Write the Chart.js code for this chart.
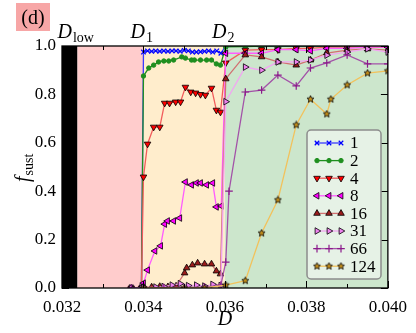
<!DOCTYPE html>
<html>
<head>
<meta charset="utf-8">
<script src="https://cdn.jsdelivr.net/npm/chart.js@4.4.1/dist/chart.umd.min.js"></script>
<style>
  html, body { margin: 0; padding: 0; background: #fff; }
</style>
</head>
<body>
<canvas id="chart" width="416" height="333"></canvas>
<script>
// axis ticks and phase boundaries
const xTicks = [0.032, 0.034, 0.036, 0.038, 0.040];
const yTicks = [0.0, 0.2, 0.4, 0.6, 0.8, 1.0];
const bandEdges = [0.032, 0.03238, 0.034, 0.036, 0.040];
const seriesNames = ["1", "2", "4", "8", "16", "31", "66", "124"];

// series values (D, f_sust)
const d1 = [0.0337, 0.03395, 0.0340, 0.0341, 0.0342, 0.0343, 0.0344, 0.0345, 0.0346, 0.0347, 0.0348, 0.0349, 0.0350, 0.0351, 0.0352, 0.0353, 0.0354, 0.0355, 0.0356, 0.0357, 0.0358, 0.0359, 0.03602, 0.0365, 0.0369, 0.0373, 0.03775, 0.0381, 0.0385, 0.0390, 0.0395, 0.0400];
const f1 = [0, 0, 0.975, 0.98, 0.978, 0.98, 0.978, 0.98, 0.978, 0.98, 0.98, 0.978, 0.982, 0.98, 0.975, 0.975, 0.976, 0.978, 0.98, 0.975, 0.98, 0.97, 1.0, 1.0, 1.0, 1.0, 1.0, 1.0, 1.0, 1.0];

const d2 = [0.0337, 0.03395, 0.0340, 0.03413, 0.03425, 0.03437, 0.0345, 0.03462, 0.03474, 0.03494, 0.03503, 0.03518, 0.03525, 0.0354, 0.03555, 0.03567, 0.03579, 0.03589, 0.03602, 0.0365, 0.0369, 0.0373, 0.03775, 0.0381, 0.0385, 0.0390, 0.0395, 0.0400];
const f2 = [0, 0, 0.876, 0.909, 0.921, 0.934, 0.938, 0.938, 0.942, 0.955, 0.95, 0.942, 0.942, 0.942, 0.942, 0.942, 0.926, 0.921, 0.996, 0.998, 1.0, 1.0, 1.0, 1.0, 1.0, 1.0, 1.0, 1.0];

const d4 = [0.0337, 0.03395, 0.0340, 0.0341, 0.03425, 0.0344, 0.03452, 0.03464, 0.03479, 0.03491, 0.03503, 0.03516, 0.03528, 0.0354, 0.03552, 0.03567, 0.03579, 0.03589, 0.03602, 0.0365, 0.0369, 0.0373, 0.03775, 0.0381, 0.0385, 0.0390, 0.0395, 0.0400];
const f4 = [0, 0, 0.459, 0.595, 0.665, 0.665, 0.764, 0.764, 0.769, 0.769, 0.83, 0.81, 0.806, 0.80, 0.797, 0.826, 0.735, 0.727, 0.93, 0.983, 0.985, 0.985, 0.99, 0.99, 0.995, 0.995, 0.995, 0.995];

const d8 = [0.0337, 0.03395, 0.0340, 0.0341, 0.03428, 0.03442, 0.03452, 0.03459, 0.03474, 0.03489, 0.03503, 0.03518, 0.0353, 0.0354, 0.03555, 0.0357, 0.03579, 0.03591, 0.03602, 0.0365, 0.0369, 0.0373, 0.03775, 0.0381, 0.0385, 0.0390, 0.0395, 0.0400];
const f8 = [0, 0, 0.02, 0.074, 0.153, 0.174, 0.264, 0.277, 0.277, 0.289, 0.438, 0.426, 0.434, 0.434, 0.426, 0.434, 0.335, 0.339, 0.97, 0.97, 0.97, 0.985, 0.985, 0.98, 0.99, 0.99, 0.995, 0.995];

const d16 = [0.0337, 0.03395, 0.0340, 0.0342, 0.0344, 0.0346, 0.0348, 0.03501, 0.03506, 0.0352, 0.03533, 0.0355, 0.03567, 0.03579, 0.03589, 0.03602, 0.0365, 0.0369, 0.0373, 0.03775, 0.0381, 0.0385, 0.0390, 0.0395, 0.0400];
const f16 = [0, 0, 0.005, 0.004, 0.006, 0.005, 0.008, 0.062, 0.083, 0.095, 0.103, 0.099, 0.099, 0.07, 0.058, 0.864, 0.963, 0.955, 0.934, 0.921, 0.942, 0.971, 0.983, 0.988, 0.983];

const d31 = [0.0337, 0.03395, 0.0340, 0.0343, 0.0345, 0.0347, 0.0349, 0.0351, 0.0353, 0.0355, 0.0357, 0.0359, 0.03602, 0.0365, 0.0369, 0.0373, 0.03775, 0.0381, 0.0385, 0.0390, 0.0395, 0.0400];
const f31 = [0, 0, 0.003, 0.004, 0.006, 0.012, 0.018, 0.01, 0.012, 0.008, 0.015, 0.01, 0.77, 0.913, 0.90, 0.934, 0.934, 0.942, 0.962, 0.975, 0.988, 0.975];

const d66 = [0.0337, 0.0340, 0.0345, 0.0350, 0.0355, 0.0359, 0.03602, 0.0361, 0.0365, 0.0369, 0.0373, 0.03775, 0.0381, 0.0385, 0.0390, 0.0395, 0.0400];
const f66 = [0, 0, 0.002, 0.003, 0.004, 0.012, 0.107, 0.40, 0.81, 0.818, 0.88, 0.835, 0.909, 0.93, 0.963, 0.926, 0.926];

const d124 = [0.0340, 0.0350, 0.0355, 0.03602, 0.0365, 0.0369, 0.0373, 0.03775, 0.0381, 0.0385, 0.0386, 0.0390, 0.0395, 0.0400];
const f124 = [0, 0, 0, 0.012, 0.03, 0.227, 0.364, 0.674, 0.78, 0.719, 0.78, 0.839, 0.888, 0.897];

// small star marker
function makeStar(size, fill) {
    const c = document.createElement("canvas");
    c.width = size; c.height = size;
    const g = c.getContext("2d");
    const cx = size / 2, cy = size / 2, R = size / 2 - 0.8, r = R * 0.45;
    g.beginPath();
    for (let i = 0; i < 10; i++) {
        const rad = i % 2 === 0 ? R : r;
        const a = -Math.PI / 2 + i * Math.PI / 5;
        g.lineTo(cx + rad * Math.cos(a), cy + rad * Math.sin(a));
    }
    g.closePath();
    g.fillStyle = fill;
    g.fill();
    g.lineWidth = 0.8;
    g.strokeStyle = "#000";
    g.stroke();
    return c;
}
const starImg = makeStar(9, "#c8901a");

function pts(xs, ys) {
    return xs.map((x, i) => ({ x: x, y: ys[i] }));
}

const styles = [
    { line: "#3a3aff", fill: "#0000ff", edge: "#0000ff", style: "crossRot", rot: 0, r: 3.2, bw: 1.2 },
    { line: "#1f8f1f", fill: "#1f8f1f", edge: "#1f8f1f", style: "circle", rot: 0, r: 2.2, bw: 1 },
    { line: "#f25c5c", fill: "#ff0000", edge: "#000", style: "triangle", rot: 180, r: 3.8, bw: 0.8 },
    { line: "#ff5cff", fill: "#ff00ff", edge: "#000", style: "triangle", rot: -90, r: 3.8, bw: 0.8 },
    { line: "#d27070", fill: "#9b1c1c", edge: "#000", style: "triangle", rot: 0, r: 3.8, bw: 0.8 },
    { line: "#f2a6f2", fill: "#ee82ee", edge: "#000", style: "triangle", rot: 90, r: 3.8, bw: 0.8 },
    { line: "#a352a8", fill: "#8b1a8b", edge: "#8b1a8b", style: "cross", rot: 0, r: 3.8, bw: 1.2 },
    { line: "#f2c25c", fill: "#c8901a", edge: "#000", style: starImg, rot: 0, r: 4, bw: 0.8 }
];

const allX = [d1, d2, d4, d8, d16, d31, d66, d124];
const allY = [f1, f2, f4, f8, f16, f31, f66, f124];

const datasets = seriesNames.map((name, i) => ({
    label: name,
    data: pts(allX[i], allY[i]),
    borderColor: styles[i].line,
    borderWidth: 1.3,
    pointStyle: styles[i].style,
    pointRotation: styles[i].rot,
    pointRadius: styles[i].r,
    pointBackgroundColor: styles[i].fill,
    pointBorderColor: styles[i].edge,
    pointBorderWidth: styles[i].bw,
    tension: 0,
    fill: false,
    order: seriesNames.length - i
}));

const SERIF = '"Liberation Serif", "DejaVu Serif", serif';

function subText(ctx, x, y, main, sub, size, subSize) {
    ctx.font = "italic " + size + "px " + SERIF;
    ctx.fillText(main, x, y);
    const w = ctx.measureText(main).width;
    ctx.font = subSize + "px " + SERIF;
    ctx.fillText(sub, x + w + 1, y + size * 0.2);
}

const decor = {
    id: "decor",
    beforeDatasetsDraw(chart) {
        const { ctx, chartArea: a, scales: { x } } = chart;
        const cols = ["#000000", "#ffcccc", "#ffedcc", "#cce6cc"];
        ctx.save();
        for (let i = 0; i < cols.length; i++) {
            const x0 = x.getPixelForValue(bandEdges[i]);
            const x1 = x.getPixelForValue(bandEdges[i + 1]);
            ctx.fillStyle = cols[i];
            ctx.fillRect(x0, a.top, x1 - x0, a.bottom - a.top);
        }
        ctx.restore();
    },
    afterDatasetsDraw(chart) {
        const { ctx, chartArea: a, scales: { x, y } } = chart;
        ctx.save();
        ctx.strokeStyle = "#000";
        ctx.lineWidth = 1;
        // inward ticks, all four sides
        for (let v = 0.032; v <= 0.04001; v += 0.001) {
            const px = Math.round(x.getPixelForValue(v)) + 0.5;
            const major = Math.abs(Math.round(v * 1000) % 2) === 0;
            const len = major ? 7 : 4;
            ctx.beginPath();
            ctx.moveTo(px, a.bottom); ctx.lineTo(px, a.bottom - len);
            ctx.moveTo(px, a.top); ctx.lineTo(px, a.top + len);
            ctx.stroke();
        }
        yTicks.forEach(v => {
            const py = Math.round(y.getPixelForValue(v)) + 0.5;
            ctx.beginPath();
            ctx.moveTo(a.left, py); ctx.lineTo(a.left + 7, py);
            ctx.moveTo(a.right, py); ctx.lineTo(a.right - 7, py);
            ctx.stroke();
        });
        ctx.lineWidth = 1.3;
        ctx.strokeRect(a.left, a.top, a.right - a.left, a.bottom - a.top);
        ctx.restore();
    },
    afterDraw(chart) {
        const { ctx, chartArea: a, scales: { x } } = chart;
        ctx.save();
        // legend box
        const lx = 307, ly = 130, lw = 74, lh = 149;
        ctx.beginPath();
        ctx.roundRect(lx, ly, lw, lh, 4);
        ctx.fillStyle = "rgba(232,243,232,0.92)";
        ctx.fill();
        ctx.strokeStyle = "#8c8c8c";
        ctx.lineWidth = 1.5;
        ctx.stroke();
        seriesNames.forEach((name, i) => {
            const yy = 143 + i * 17.6;
            const s = styles[i];
            ctx.strokeStyle = s.line;
            ctx.lineWidth = 1.3;
            ctx.beginPath();
            ctx.moveTo(315, yy); ctx.lineTo(342, yy);
            ctx.stroke();
            [317, 329, 341].forEach(mx => {
                ctx.fillStyle = s.fill;
                ctx.strokeStyle = s.edge;
                ctx.lineWidth = s.bw;
                Chart.helpers.drawPoint(ctx, { pointStyle: s.style, rotation: s.rot, radius: s.r, borderWidth: s.bw }, mx, yy);
            });
            ctx.fillStyle = "#000";
            ctx.font = "17px " + SERIF;
            ctx.textBaseline = "middle";
            ctx.fillText(name, 350, yy + 1);
        });
        ctx.textBaseline = "alphabetic";
        // panel tag
        ctx.fillStyle = "#f7a6a6";
        ctx.fillRect(16, 3, 34, 28);
        ctx.fillStyle = "#000";
        ctx.font = "20px " + SERIF;
        ctx.textAlign = "center";
        ctx.fillText("(d)", 33, 24);
        ctx.textAlign = "left";
        // boundary labels
        subText(ctx, x.getPixelForValue(bandEdges[1]) - 20, 38, "D", "low", 20, 14);
        subText(ctx, x.getPixelForValue(bandEdges[2]) - 13, 38, "D", "1", 20, 14);
        subText(ctx, x.getPixelForValue(bandEdges[3]) - 13, 38, "D", "2", 20, 14);
        // axis titles
        ctx.font = "italic 20px " + SERIF;
        ctx.textAlign = "center";
        ctx.fillText("D", (a.left + a.right) / 2, 325);
        ctx.textAlign = "left";
        ctx.translate(29, (a.top + a.bottom) / 2 + 15);
        ctx.rotate(-Math.PI / 2);
        subText(ctx, 0, 0, "f", "sust", 20, 14);
        ctx.restore();
    }
};

new Chart(document.getElementById("chart").getContext("2d"), {
    type: "line",
    data: { datasets: datasets },
    options: {
        responsive: false,
        animation: false,
        layout: { padding: { top: 46, right: 26, left: 0, bottom: 0 } },
        plugins: { legend: { display: false }, tooltip: { enabled: false } },
        scales: {
            x: {
                type: "linear",
                min: 0.032,
                max: 0.040,
                afterFit: s => { s.height = 45; },
                afterBuildTicks: s => { s.ticks = xTicks.map(v => ({ value: v })); },
                grid: { display: false, drawTicks: false },
                border: { display: false },
                ticks: {
                    padding: 9,
                    color: "#000",
                    font: { family: SERIF, size: 17 },
                    callback: v => v.toFixed(3)
                }
            },
            y: {
                min: 0,
                max: 1,
                afterFit: s => { s.width = 62; },
                afterBuildTicks: s => { s.ticks = yTicks.map(v => ({ value: v })); },
                grid: { display: false, drawTicks: false },
                border: { display: false },
                ticks: {
                    padding: 6,
                    color: "#000",
                    font: { family: SERIF, size: 17 },
                    callback: v => v.toFixed(1)
                }
            }
        }
    },
    plugins: [decor]
});
</script>
</body>
</html>
